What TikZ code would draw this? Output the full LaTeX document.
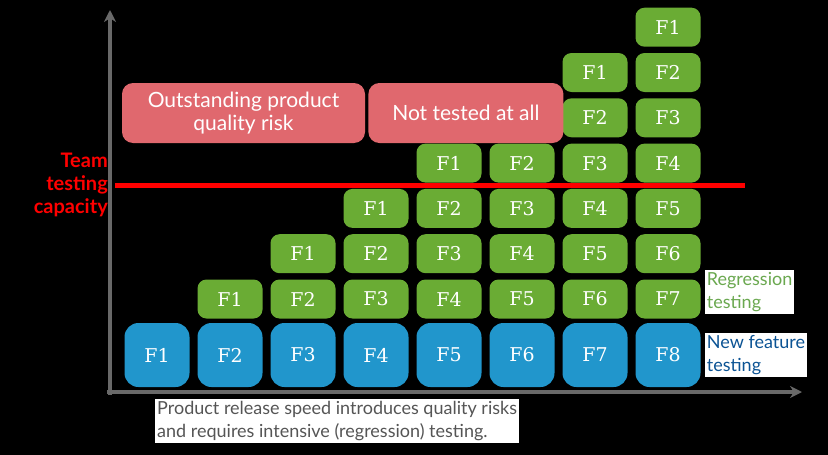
\documentclass[tikz,border=0pt]{standalone}
\usepackage{fontspec}
\setmainfont{Lato}
\newfontfamily\slabfont{DejaVu Serif}
\usetikzlibrary{arrows.meta, positioning}
\definecolor{featblue}{RGB}{33,150,204}
\definecolor{regrgreen}{RGB}{106,172,52}
\definecolor{riskred}{RGB}{224,104,110}
\definecolor{axisgrey}{RGB}{105,105,105}
\definecolor{capred}{RGB}{255,0,0}
\definecolor{regrtext}{RGB}{106,168,79}
\definecolor{feattext}{RGB}{11,83,148}
\definecolor{captiongrey}{RGB}{85,85,85}
\tikzset{
  tile/.style={rectangle, rounded corners=#1, text=white, inner sep=0pt,
               font=\slabfont\fontsize{19}{19}\selectfont},
  feat/.style={tile=14pt, fill=featblue, minimum width=65pt, minimum height=64pt},
  regr/.style={tile=9pt, fill=regrgreen, minimum width=65pt, minimum height=39pt},
  risk/.style={rectangle, rounded corners=11pt, fill=riskred, text=white,
               minimum height=60pt, align=center, font=\fontsize{21}{23}\selectfont},
  tag/.style={fill=white, inner sep=2pt, align=left, font=\fontsize{18}{23}\selectfont},
  axis/.style={draw=axisgrey, line width=4pt, shorten <=-3pt,
               -{Stealth[length=12pt, width=12pt]}},
}
\begin{document}
\begin{tikzpicture}[x=1pt, y=-1pt]
\fill[black] (0,0) rectangle (828,455);
\useasboundingbox (0,0) rectangle (828,455);

% ── axes ──────────────────────────────────────────────────────────────
\coordinate (origin) at (110,392);
\coordinate (ytip) at (110,10);
\coordinate (xtip) at (802,392);
\draw[axis] (origin) -- (ytip);
\draw[axis] (origin) -- (xtip);

% ── feature tiles: one blue per release, green regression stack above ──
\foreach \c in {1,...,8}{
  \pgfmathsetmacro{\x}{157+(\c-1)*73}
  \node[feat] (feat-\c) at (\x,355) {F\c};
  \foreach \k in {1,...,7}{
    \ifnum\k<\c
      % F1 of release 6 is hidden under the untested box
      \ifnum\numexpr\c*10+\k\relax=61 \else
        \pgfmathsetmacro{\y}{299-(\c-\k-1)*45.3}
        \node[regr] (regr-\c-\k) at (\x,\y) {F\k};
      \fi
    \fi
  }
}

% ── team testing capacity ─────────────────────────────────────────────
\coordinate (cap-left) at (115,185);
\coordinate (cap-right) at (745,185);
\draw[capred, line width=5pt] (cap-left) -- (cap-right);
\node[left=6pt of cap-left, text=capred, align=right, inner sep=1pt,
      font=\bfseries\fontsize{20}{23}\selectfont] (capacity)
  {Team\\testing\\capacity};

% ── risk boxes ────────────────────────────────────────────────────────
\node[risk, minimum width=243pt] (risk-out) at (243.5,113)
  {Outstanding product\\quality risk};
\node[risk, minimum width=195pt, right=3pt of risk-out] (risk-none)
  {Not tested at all};

% ── legend tags and caption ───────────────────────────────────────────
\node[tag, text=regrtext, right=4pt of regr-8-7, yshift=7pt] (tag-regr)
  {Regression\\testing};
\node[tag, text=feattext, right=4pt of feat-8] (tag-feat)
  {New feature\\testing};
\node[tag, text=captiongrey, anchor=north west] (caption) at (155,399)
  {Product release speed introduces quality risks\\
   and requires intensive (regression) testing.};

\end{tikzpicture}
\end{document}
